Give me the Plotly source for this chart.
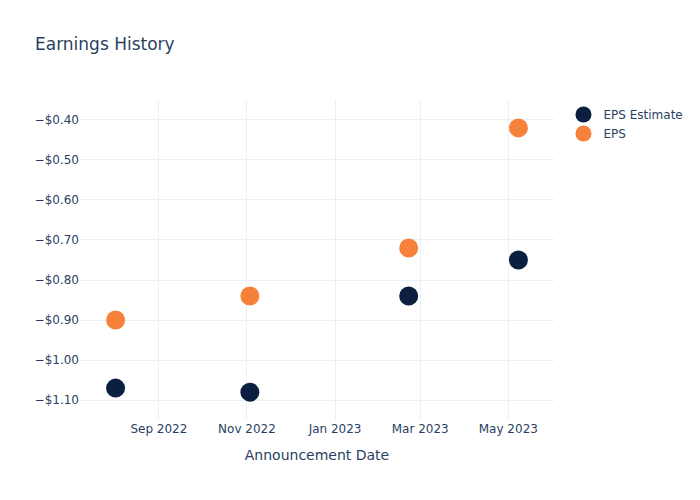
import plotly.graph_objects as go

dates = ["2022-08-02", "2022-11-03", "2023-02-21", "2023-05-08"]
eps_estimate = [-1.07, -1.08, -0.84, -0.75]
eps_actual = [-0.90, -0.84, -0.72, -0.42]

fig = go.Figure()
fig.add_trace(go.Scatter(x=dates, y=eps_estimate, mode="markers", name="EPS Estimate",
                         marker=dict(color="#0b1f41", size=19)))
fig.add_trace(go.Scatter(x=dates, y=eps_actual, mode="markers", name="EPS",
                         marker=dict(color="#f5813a", size=19)))
fig.update_layout(
    template="plotly_white",
    width=700, height=500,
    font=dict(family="DejaVu Sans"),
    title=dict(text="Earnings History"),
    xaxis=dict(title=dict(text="Announcement Date")),
    yaxis=dict(tickformat="$.2f"),
)
fig.write_html("out.html", config={"displayModeBar": False},
               post_script="document.body.style.margin='0px';")
